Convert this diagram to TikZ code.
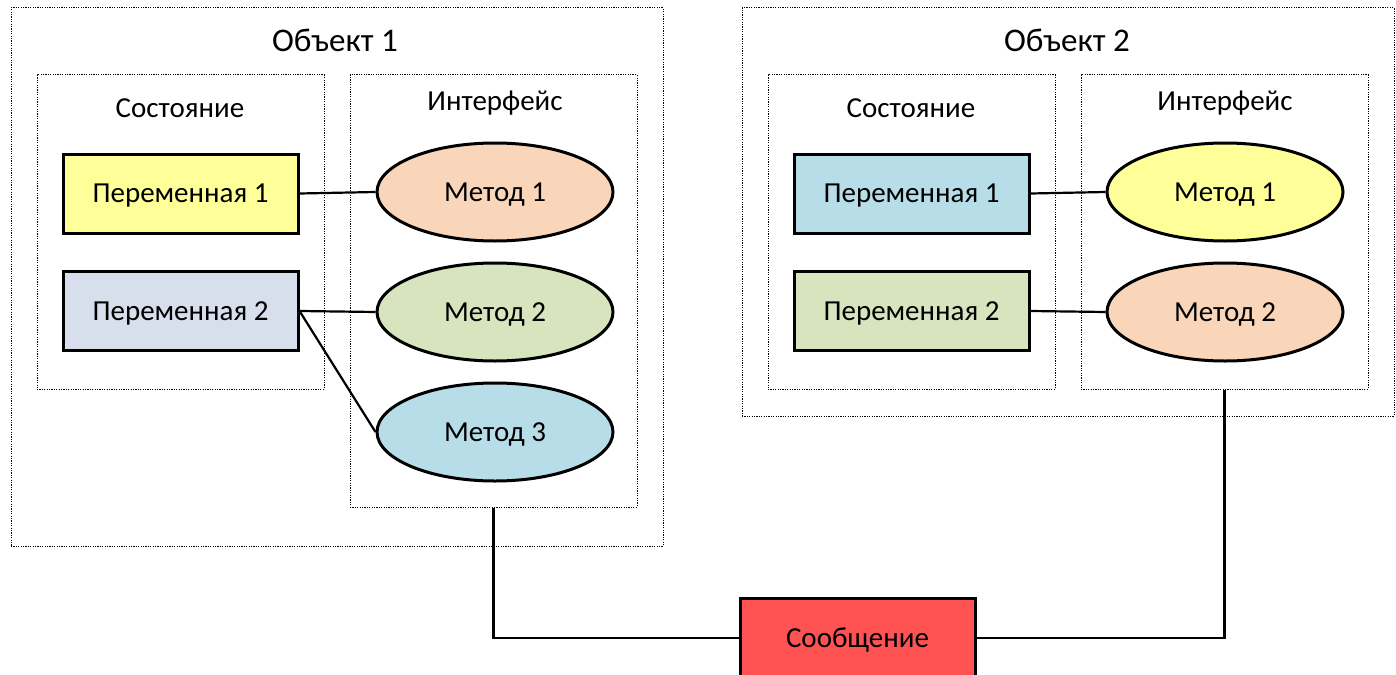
\documentclass[tikz,border=0pt]{standalone}
\usepackage{fontspec}
\setmainfont{Carlito}
\usetikzlibrary{shapes.geometric}
\definecolor{cYellow}{HTML}{FFFF99}
\definecolor{cSteel}{HTML}{D6DFEB}
\definecolor{cPeach}{HTML}{F9D6B9}
\definecolor{cGreen}{HTML}{D7E4BD}
\definecolor{cBlue}{HTML}{B7DEE8}
\definecolor{cRed}{HTML}{FF5353}
\tikzset{
  frame/.style={draw, line width=1pt, dash pattern=on 1.2pt off 1.2pt, rectangle, inner sep=0pt},
  bigtitle/.style={font=\fontsize{33}{37}\selectfont},
  subtitle/.style={font=\fontsize{29}{33}\selectfont},
  varbox/.style={draw, line width=3pt, rectangle, minimum width=235pt, minimum height=79pt, inner sep=0pt, text depth=0pt, font=\fontsize{29}{33}\selectfont},
  method/.style={draw, line width=3pt, ellipse, minimum width=236pt, minimum height=98pt, inner sep=0pt, text depth=0pt, font=\fontsize{29}{33}\selectfont},
  wire/.style={line width=2.2pt},
}
\begin{document}
\begin{tikzpicture}[x=1pt, y=-1pt]
\useasboundingbox (0,0) rectangle (1396,674);

% Object 1
\node[frame, minimum width=652pt, minimum height=538pt] (obj1) at (337,277) {};
\node[bigtitle] (obj1t) at (335,40) {Объект 1};
\node[frame, minimum width=287pt, minimum height=314pt] (st1) at (180.5,232) {};
\node[subtitle] (st1t) at (180,108) {Состояние};
\node[frame, minimum width=287pt, minimum height=432pt] (if1) at (493.5,291) {};
\node[subtitle] (if1t) at (495,103) {Интерфейс};
\node[varbox, fill=cYellow] (v11) at (180.5,193.5) {Переменная 1};
\node[varbox, fill=cSteel] (v12) at (180.5,311) {Переменная 2};
\node[method, fill=cPeach] (m11) at (495,192) {Метод 1};
\node[method, fill=cGreen] (m12) at (495,312) {Метод 2};
\node[method, fill=cBlue] (m13) at (495,432) {Метод 3};
\draw[wire] (v11.east) -- (m11.west);
\draw[wire] (v12.east) -- (m12.west);
\draw[wire] (v12.east) -- (m13.west);

% Object 2
\node[frame, minimum width=652pt, minimum height=408pt] (obj2) at (1068,212) {};
\node[bigtitle] (obj2t) at (1067,40) {Объект 2};
\node[frame, minimum width=287pt, minimum height=314pt] (st2) at (911.5,232) {};
\node[subtitle] (st2t) at (911,108) {Состояние};
\node[frame, minimum width=287pt, minimum height=314pt] (if2) at (1224.5,232) {};
\node[subtitle] (if2t) at (1225,103) {Интерфейс};
\node[varbox, fill=cBlue] (v21) at (911.5,193.5) {Переменная 1};
\node[varbox, fill=cGreen] (v22) at (911.5,311) {Переменная 2};
\node[method, fill=cYellow] (m21) at (1225,192) {Метод 1};
\node[method, fill=cPeach] (m22) at (1225,312) {Метод 2};
\draw[wire] (v21.east) -- (m21.west);
\draw[wire] (v22.east) -- (m22.west);

% Message
\node[varbox, fill=cRed, minimum height=80pt] (msg) at (857.5,638) {Сообщение};
\draw[wire] (if1.south) |- (msg.west);
\draw[wire] (msg.east) -| (if2.south);
\end{tikzpicture}
\end{document}
